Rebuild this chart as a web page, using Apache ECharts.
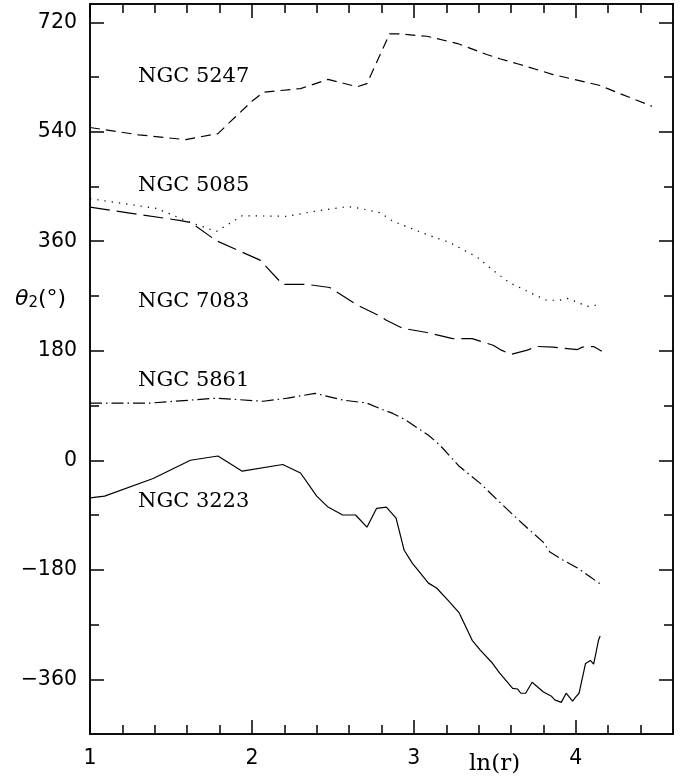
<!DOCTYPE html>
<html>
<head>
<meta charset="utf-8">
<script src="https://cdn.jsdelivr.net/npm/echarts@6/dist/echarts.min.js"></script>
<style>
  html, body { margin: 0; padding: 0; background: #fff; }
  #chart { width: 682px; height: 781px; }
</style>
</head>
<body>
<div id="chart"></div>
<script>
// Position angle of the m=2 Fourier component versus ln(r)
const n5247_r     = [1.0, 1.3, 1.59, 1.79, 1.9, 2.0, 2.07, 2.3, 2.47, 2.65, 2.71, 2.78, 2.85, 2.9, 3.08, 3.27, 3.45, 3.53, 3.65, 3.86, 4.15, 4.25, 4.47];
const n5247_theta = [547, 535, 527, 537, 565, 590, 605, 611, 626, 614, 619, 660, 701, 701, 697, 685, 667, 660, 651, 634, 616, 605, 582];

const n5085_r     = [1.0, 1.41, 1.62, 1.78, 1.94, 2.22, 2.38, 2.59, 2.67, 2.79, 2.87, 3.08, 3.22, 3.39, 3.49, 3.59, 3.73, 3.82, 3.90, 3.95, 4.07, 4.16];
const n5085_theta = [430, 414, 391, 376, 402, 401, 409, 417, 414, 407, 393, 371, 358, 334, 312, 292, 274, 263, 263, 266, 253, 256];

const n7083_r     = [1.0, 1.56, 1.62, 1.78, 2.05, 2.19, 2.34, 2.48, 2.65, 2.79, 2.83, 2.93, 3.08, 3.24, 3.36, 3.49, 3.54, 3.60, 3.70, 3.76, 3.86, 3.93, 4.01, 4.04, 4.11, 4.16];
const n7083_theta = [416, 394, 391, 361, 329, 289, 289, 284, 255, 237, 230, 217, 210, 200, 200, 189, 181, 174, 181, 187, 186, 184, 182, 186, 187, 179];

const n5861_r     = [1.0, 1.37, 1.78, 2.07, 2.22, 2.39, 2.56, 2.71, 2.79, 2.87, 2.95, 3.09, 3.16, 3.28, 3.41, 3.53, 3.67, 3.80, 3.84, 3.92, 4.01, 4.09, 4.16];
const n5861_theta = [94, 94, 102, 97, 102, 110, 99, 94, 85, 77, 66, 41, 25, -10, -38, -69, -104, -135, -151, -164, -177, -192, -205];

const n3223_r     = [1.0, 1.09, 1.39, 1.62, 1.79, 1.94, 2.19, 2.30, 2.40, 2.47, 2.56, 2.64, 2.71, 2.77, 2.83, 2.89, 2.94, 2.99, 3.09, 3.14, 3.21, 3.28, 3.36, 3.41, 3.48, 3.53, 3.61, 3.64, 3.66, 3.69, 3.73, 3.80, 3.85, 3.87, 3.91, 3.94, 3.95, 3.98, 4.00, 4.01, 4.02, 4.06, 4.09, 4.11, 4.14, 4.15];
const n3223_theta = [-62, -59, -30, 0, 7, -18, -7, -21, -59, -77, -90, -90, -110, -79, -77, -95, -148, -169, -202, -210, -230, -251, -296, -312, -332, -350, -375, -376, -383, -383, -365, -381, -388, -394, -398, -383, -383, -396, -389, -388, -383, -334, -329, -335, -296, -289];

// Axis ticks
const xMajor = [1, 2, 3, 4];
const xMinor = [1.2, 1.4, 1.6, 1.8, 2.2, 2.4, 2.6, 2.8, 3.2, 3.4, 3.6, 3.8, 4.2, 4.4];
const yMajor = [-360, -180, 0, 180, 360, 540, 720];
const yMinor = [-270, -90, 90, 270, 450, 630];

const X_MIN = 1, X_MAX = 4.6, Y_MIN = -450, Y_MAX = 750;

const pairs = (xs, ys) => xs.map((x, i) => [x, ys[i]]);
const fmt = v => (v < 0 ? '\u2212' + (-v) : String(v));

const AXIS_COLOR = '#000';
const tickFont = { fontFamily: 'DejaVu Sans', fontSize: 20.5, color: '#000' };

function xAxisDef(pos, ticks, len, withLabel) {
  return {
    type: 'value', position: pos, min: X_MIN, max: X_MAX,
    axisLine: { show: true, onZero: false, lineStyle: { color: AXIS_COLOR, width: 1.5 } },
    axisTick: { show: true, inside: true, length: len, customValues: ticks, lineStyle: { color: AXIS_COLOR, width: 1.5 } },
    axisLabel: withLabel ? Object.assign({ show: true, customValues: ticks, margin: 14, formatter: fmt }, tickFont) : { show: false },
    splitLine: { show: false }
  };
}
function yAxisDef(pos, ticks, len, withLabel) {
  return {
    type: 'value', position: pos, min: Y_MIN, max: Y_MAX,
    axisLine: { show: true, onZero: false, lineStyle: { color: AXIS_COLOR, width: 1.5 } },
    axisTick: { show: true, inside: true, length: len, customValues: ticks, lineStyle: { color: AXIS_COLOR, width: 1.5 } },
    axisLabel: withLabel ? Object.assign({ show: true, customValues: ticks, margin: 13, formatter: fmt }, tickFont) : { show: false },
    splitLine: { show: false }
  };
}

function curve(name, xs, ys, dash) {
  return {
    name, type: 'line', xAxisIndex: 0, yAxisIndex: 0,
    data: pairs(xs, ys), showSymbol: false, symbol: 'none', smooth: false,
    lineStyle: { color: '#000', width: 1.2, type: dash },
    animation: false, silent: true
  };
}

const labelFont = { fontFamily: 'DejaVu Serif', fontSize: 21, fill: '#000' };
function galaxyLabel(text, x, y) {
  return { type: 'text', left: x, top: y - 12, style: Object.assign({ text }, labelFont), silent: true };
}

const chart = echarts.init(document.getElementById('chart'), null, { renderer: 'canvas' });
chart.setOption({
  animation: false,
  backgroundColor: '#fff',
  grid: { left: 90, right: 9, top: 4, bottom: 47, containLabel: false },
  xAxis: [
    xAxisDef('bottom', xMajor, 14, true),
    xAxisDef('bottom', xMinor, 9, false),
    xAxisDef('top', xMajor, 14, false),
    xAxisDef('top', xMinor, 9, false)
  ],
  yAxis: [
    yAxisDef('left', yMajor, 14, true),
    yAxisDef('left', yMinor, 9, false),
    yAxisDef('right', yMajor, 14, false),
    yAxisDef('right', yMinor, 9, false)
  ],
  series: [
    curve('NGC 5247', n5247_r, n5247_theta, [10, 6]),
    curve('NGC 5085', n5085_r, n5085_theta, [1.3, 6]),
    curve('NGC 7083', n7083_r, n7083_theta, [20, 7]),
    curve('NGC 5861', n5861_r, n5861_theta, [12, 4, 1.5, 4]),
    curve('NGC 3223', n3223_r, n3223_theta, 'solid')
  ],
  graphic: [
    galaxyLabel('NGC 5247', 138, 78),
    galaxyLabel('NGC 5085', 138, 187),
    galaxyLabel('NGC 7083', 138, 303),
    galaxyLabel('NGC 5861', 138, 382),
    galaxyLabel('NGC 3223', 138, 503),
    {
      type: 'text', left: 469, top: 753, silent: true,
      style: { text: 'ln(r)', fontFamily: 'DejaVu Serif', fontSize: 23, fill: '#000' }
    },
    {
      type: 'text', left: 15, top: 288, silent: true,
      style: {
        text: '{t|\u03b8}{s|2}{p|(\u00b0)}',
        rich: {
          t: { fontFamily: 'DejaVu Sans', fontStyle: 'italic', fontSize: 22, fill: '#000' },
          s: { fontFamily: 'DejaVu Sans', fontSize: 15, fill: '#000', padding: [9, 0, 0, 0] },
          p: { fontFamily: 'DejaVu Sans', fontSize: 22, fill: '#000' }
        }
      }
    }
  ]
});
</script>
</body>
</html>
